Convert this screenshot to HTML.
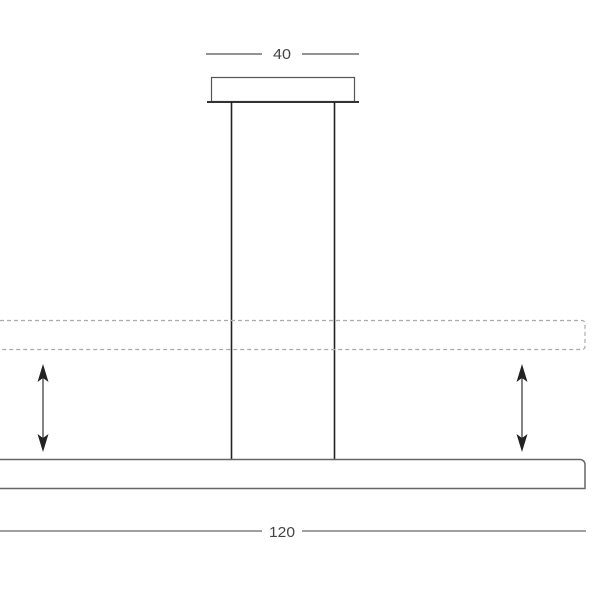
<!DOCTYPE html>
<html><head><style>html,body{margin:0;padding:0;background:#fff}svg{display:block}</style></head>
<body>
<svg width="600" height="600" viewBox="0 0 600 600" xmlns="http://www.w3.org/2000/svg">
<defs>
<marker id="a" viewBox="0 0 10 10" refX="9" refY="5" markerWidth="5" markerHeight="6" orient="auto-start-reverse" markerUnits="userSpaceOnUse">
</marker>
</defs>
<g stroke="#555" fill="none" stroke-width="1.2">
<line x1="206" y1="54" x2="262" y2="54"/>
<line x1="302" y1="54" x2="359" y2="54"/>
<rect x="211.5" y="77.5" width="143" height="24"/>
<line x1="207" y1="102" x2="359" y2="102" stroke-width="2" stroke="#333"/>
<line x1="231.5" y1="102" x2="231.5" y2="459" stroke="#222" stroke-width="1.6"/>
<line x1="334.5" y1="102" x2="334.5" y2="459" stroke="#222" stroke-width="1.6"/>
<path d="M0 320.5 H582 a3 3 0 0 1 3 3 V346.5 a3 3 0 0 1 -3 3 H0" stroke="#aaa" stroke-dasharray="4 3"/>
<path d="M0 459.5 H580 a5 5 0 0 1 5 5 V488.5 H0" stroke="#666" stroke-width="1.5"/>
<line x1="0" y1="531" x2="262" y2="531" stroke="#666"/>
<line x1="302" y1="531" x2="586" y2="531" stroke="#666"/>
<line x1="43" y1="375" x2="43" y2="442" stroke="#333"/>
<line x1="522" y1="375" x2="522" y2="442" stroke="#333"/>
</g>
<g fill="#222">
<polygon points="43,364 37.5,382 43,378 48.5,382"/>
<polygon points="43,452 37.5,434 43,438 48.5,434"/>
<polygon points="522,364 516.5,382 522,378 527.5,382"/>
<polygon points="522,452 516.5,434 522,438 527.5,434"/>
</g>
<g font-family="Liberation Sans, sans-serif" font-size="15" fill="#444" text-anchor="middle">
<text x="282" y="59" textLength="18" lengthAdjust="spacingAndGlyphs">40</text>
<text x="282" y="537" textLength="26" lengthAdjust="spacingAndGlyphs">120</text>
</g>
</svg>
</body></html>
